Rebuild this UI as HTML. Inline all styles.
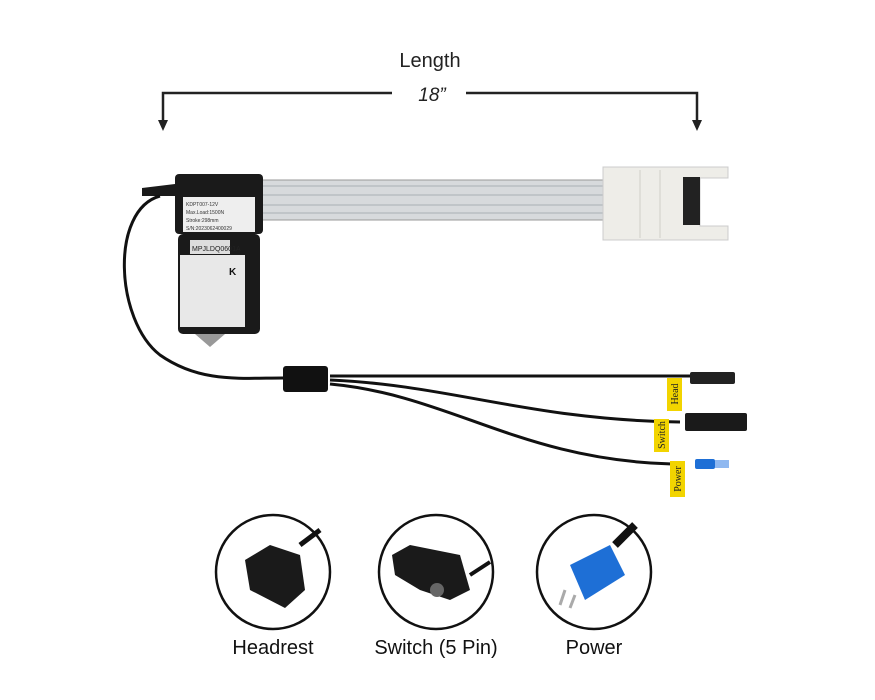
<!DOCTYPE html>
<html><head><meta charset="utf-8"><style>
body{margin:0;background:#fff;}
svg{display:block;font-family:"Liberation Sans",sans-serif;}
</style></head><body>
<svg width="875" height="700" viewBox="0 0 875 700">
<text x="430" y="67" font-size="20" text-anchor="middle" fill="#222">Length</text>
<text x="432" y="101" font-size="19" font-style="italic" text-anchor="middle" fill="#222">18”</text>
<g stroke="#222" stroke-width="2.5" fill="none">
<path d="M163 128 V93 H392 M466 93 H697 V128"/>
</g>
<path d="M158 120 L163 131 L168 120Z M692 120 L697 131 L702 120Z" fill="#222"/>
<rect x="255" y="180" width="360" height="40" fill="#d7dadc"/>
<g stroke="#aab0b4" stroke-width="1"><line x1="255" y1="186" x2="615" y2="186"/><line x1="255" y1="195" x2="615" y2="195"/><line x1="255" y1="205" x2="615" y2="205"/><line x1="255" y1="213" x2="615" y2="213"/></g>
<rect x="255" y="180" width="360" height="40" fill="none" stroke="#999" stroke-width="1"/>
<path d="M603 167 H728 V178 H700 V226 H728 V240 H603Z" fill="#eeede8" stroke="#ccc"/>
<g stroke="#d0d0c8"><line x1="640" y1="170" x2="640" y2="238"/><line x1="660" y1="170" x2="660" y2="238"/></g>
<rect x="683" y="177" width="17" height="48" fill="#222"/>
<path d="M142 188 L175 184 L175 196 L142 196Z" fill="#1a1a1a"/>
<rect x="175" y="174" width="88" height="60" rx="4" fill="#1a1a1a"/>
<rect x="183" y="197" width="72" height="35" fill="#eee"/>
<g font-size="5" fill="#333"><text x="186" y="206">KDPT007-12V</text><text x="186" y="214">Max.Load:1500N</text><text x="186" y="222">Stroke:298mm</text><text x="186" y="230">S/N:2023062400029</text></g>
<rect x="178" y="234" width="82" height="100" rx="5" fill="#1a1a1a"/>
<rect x="190" y="240" width="40" height="14" fill="#ddd"/>
<text x="192" y="251" font-size="7" fill="#222">MPJLDQ0601A</text>
<rect x="180" y="255" width="65" height="72" fill="#e8e8e8"/>
<text x="229" y="275" font-size="10" font-weight="bold" fill="#111">K</text>
<path d="M195 334 L225 334 L210 347Z" fill="#999"/>
<g stroke="#111" stroke-width="3" fill="none">
<path d="M160 196 C110 210 115 320 160 355 C200 383 240 378 283 378"/>
<path d="M330 376 H690"/>
<path d="M330 380 C450 385 530 420 680 422"/>
<path d="M330 384 C450 395 520 460 672 464"/>
</g>
<rect x="283" y="366" width="45" height="26" rx="3" fill="#111"/>
<rect x="690" y="372" width="45" height="12" rx="2" fill="#222"/>
<rect x="685" y="413" width="62" height="18" rx="2" fill="#1a1a1a"/>
<rect x="695" y="459" width="20" height="10" rx="2" fill="#1e6fd6"/>
<rect x="715" y="460" width="14" height="8" fill="#8fb8f0"/>
<rect x="667" y="378" width="15" height="33" fill="#f2d400"/>
<rect x="654" y="419" width="15" height="33" fill="#f2d400"/>
<rect x="670" y="461" width="15" height="36" fill="#f2d400"/>
<g font-family="Liberation Serif,serif" font-size="10" fill="#222" text-anchor="middle">
<text transform="translate(678,394) rotate(-90)">Head</text>
<text transform="translate(665,435) rotate(-90)">Switch</text>
<text transform="translate(681,479) rotate(-90)">Power</text>
</g>
<g fill="#fff" stroke="#111" stroke-width="2.5">
<circle cx="273" cy="572" r="57"/><circle cx="436" cy="572" r="57"/><circle cx="594" cy="572" r="57"/>
</g>
<path d="M245 560 L270 545 L300 555 L305 590 L285 608 L250 590Z" fill="#1a1a1a"/>
<path d="M300 545 L320 530" stroke="#111" stroke-width="5"/>
<path d="M392 555 L410 545 L460 555 L470 590 L450 600 L420 590 L395 575Z" fill="#1a1a1a"/>
<circle cx="437" cy="590" r="7" fill="#666"/>
<path d="M470 575 L490 562" stroke="#111" stroke-width="4"/>
<path d="M570 565 L610 545 L625 575 L585 600Z" fill="#1e6fd6"/>
<path d="M615 545 L635 525" stroke="#111" stroke-width="8"/>
<path d="M565 590 L560 605 M575 595 L570 608" stroke="#aaa" stroke-width="3"/>
<g font-size="20" text-anchor="middle" fill="#111">
<text x="273" y="654">Headrest</text><text x="436" y="654">Switch (5 Pin)</text><text x="594" y="654">Power</text>
</g>
</svg>
</body></html>
